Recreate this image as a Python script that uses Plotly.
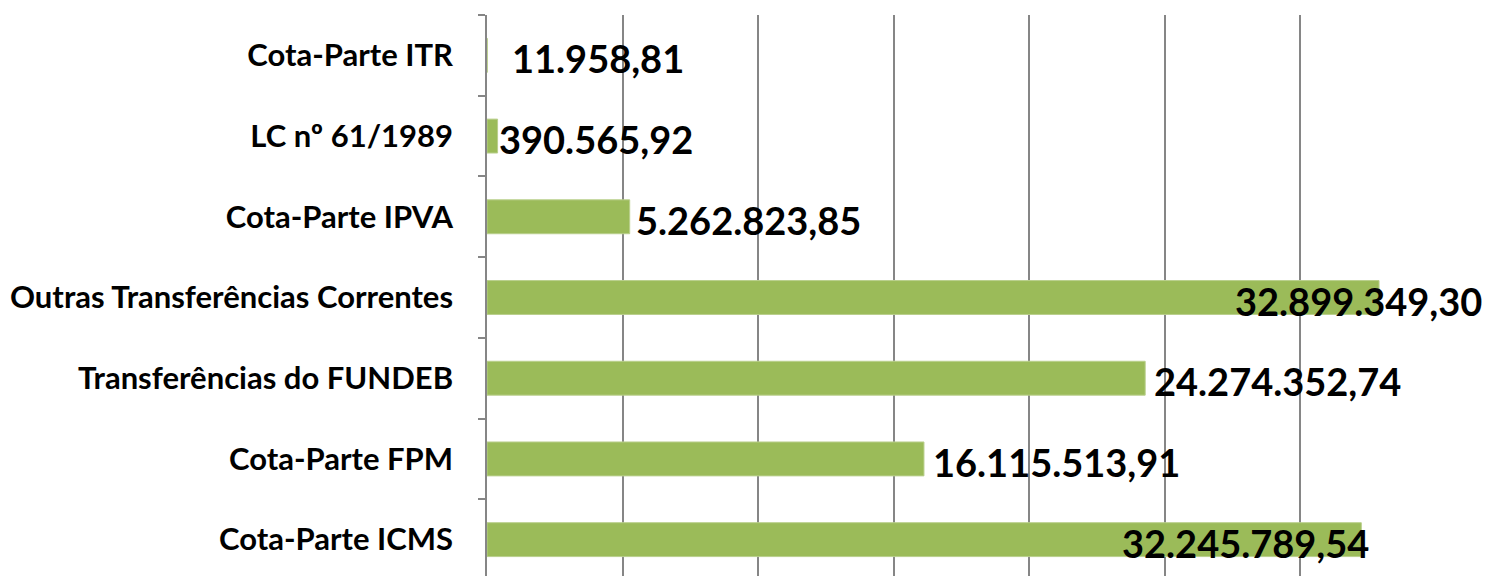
import plotly.graph_objects as go

categories = [
    "Cota-Parte ICMS",
    "Cota-Parte FPM",
    "Transferências do FUNDEB",
    "Outras Transferências Correntes",
    "Cota-Parte IPVA",
    "LC nº 61/1989",
    "Cota-Parte ITR",
]
values = [32245789.54, 16115513.91, 24274352.74, 32899349.30, 5262823.85, 390565.92, 11958.81]

# label placement styles (per bar)
label_anchor = ["right", "left", "left", "right", "left", "left", "left"]
label_xshift = [10, 7, 7, 105, 4, -1, 23]


def fmt_br(v):
    s = f"{v:,.2f}"
    return s.replace(",", "X").replace(".", ",").replace("X", ".")


fig = go.Figure()
fig.add_trace(go.Bar(
    y=categories,
    x=values,
    orientation="h",
    marker=dict(color="#9BBB59", line=dict(color="#b9cf8c", width=1)),
    hoverinfo="skip",
))

for cat, v, anc, xs in zip(categories, values, label_anchor, label_xshift):
    fig.add_annotation(
        x=v, y=cat, xref="x", yref="y",
        text=fmt_br(v), showarrow=False,
        xanchor=anc, yanchor="middle",
        xshift=xs, yshift=-3,
        font=dict(family="Lato", size=38, color="#000000", weight="bold"),
    )

fig.update_layout(
    width=1484, height=572,
    margin=dict(l=479, r=56, t=7, b=0),
    paper_bgcolor="white", plot_bgcolor="white",
    bargap=0.58,
    showlegend=False,
)
fig.update_xaxes(
    range=[0, 35000000], dtick=5000000, tick0=0,
    showgrid=True, gridcolor="#868686", gridwidth=1.5,
    showticklabels=False, ticks="", zeroline=False,
    showline=False, fixedrange=True,
)
fig.update_yaxes(
    type="category", categoryorder="array", categoryarray=categories,
    range=[-0.5, 6.5],
    tickson="boundaries", ticks="outside", ticklen=7, tickwidth=1.5, tickcolor="#868686",
    showline=True, linecolor="#868686", linewidth=1.5,
    showgrid=False, zeroline=False,
    ticklabelstandoff=26,
    tickfont=dict(family="Lato", size=31, color="#000000", weight="bold"),
    fixedrange=True,
)

fig.write_html("out.html")
